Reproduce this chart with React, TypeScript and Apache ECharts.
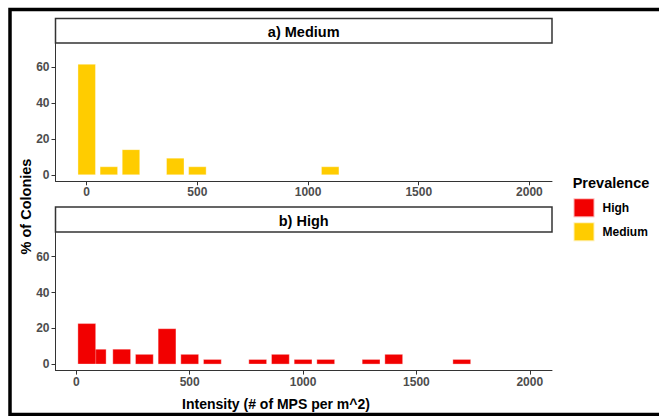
import React, { useEffect, useRef } from "react";
import * as echarts from "echarts";

const mediumX = [0, 100, 200, 400, 500, 1100];
const mediumPct = [61.9, 4.76, 14.29, 9.52, 4.76, 4.76];
const highX = [92, 46, 200, 300, 400, 500, 600, 800, 900, 1000, 1100, 1300, 1400, 1700];
const highPct = [8.57, 22.86, 8.57, 5.71, 20, 5.71, 2.86, 2.86, 5.71, 2.86, 2.86, 2.86, 5.71, 2.86];
const xTicks = [0, 500, 1000, 1500, 2000];
const yTicks = [0, 20, 40, 60];
const panelTitles = ["a) Medium", "b) High"];
const legendNames = ["High", "Medium"];

const FONT = "Liberation Sans, Arial, sans-serif";
const RED = "#F20000";
const YELLOW = "#FFCC00";

export default function App() {
  const ref = useRef<HTMLDivElement>(null);
  useEffect(() => {
    document.body.style.margin = "0";
    const chart = echarts.init(ref.current!, null, { renderer: "svg" });
    const gridLeft = 55.5;
    const gridW = 496.5;
    const gridH = 138.1;
    const tops = [43.2, 232.5];
    const xRanges = [
      [-141, 2102],
      [-92, 2098],
    ];
    const xAxisCommon = (i: number) => ({
      type: "value",
      gridIndex: i,
      min: xRanges[i][0],
      max: xRanges[i][1],
      splitLine: { show: false },
      axisLine: { show: true, onZero: false, lineStyle: { color: "#333", width: 1 } },
      axisTick: { show: true, customValues: xTicks, length: 4, lineStyle: { color: "#333" } },
      axisLabel: {
        customValues: xTicks,
        formatter: (v: number) => String(v),
        color: "#4D4D4D",
        fontWeight: "bold",
        fontSize: 12,
        fontFamily: FONT,
        margin: 5,
      },
    });
    const yAxisCommon = (i: number) => ({
      type: "value",
      gridIndex: i,
      min: -3.5,
      max: 73.5,
      splitLine: { show: false },
      axisLine: { show: true, onZero: false, lineStyle: { color: "#333", width: 1 } },
      axisTick: { show: true, customValues: yTicks, length: 4, lineStyle: { color: "#333" } },
      axisLabel: {
        customValues: yTicks,
        formatter: (v: number) => String(v),
        color: "#4D4D4D",
        fontWeight: "bold",
        fontSize: 12,
        fontFamily: FONT,
        margin: 6,
      },
    });
    chart.setOption({
      animation: false,
      grid: tops.map((t) => ({ left: gridLeft, top: t, width: gridW, height: gridH })),
      xAxis: [xAxisCommon(0), xAxisCommon(1)],
      yAxis: [yAxisCommon(0), yAxisCommon(1)],
      legend: {
        data: legendNames,
        orient: "vertical",
        left: 572.5,
        top: 197.3,
        itemWidth: 21,
        itemHeight: 19,
        itemGap: 3,
        padding: 0,
        icon: "rect",
        textStyle: { fontFamily: FONT, fontWeight: "bold", fontSize: 12, color: "#000", padding: [0, 0, 0, 3] },
      },
      series: [
        {
          name: "Medium",
          type: "bar",
          xAxisIndex: 0,
          yAxisIndex: 0,
          barWidth: 18,
          itemStyle: { color: YELLOW, borderColor: "rgba(255,255,255,0.7)", borderWidth: 0.5 },
          data: mediumX.map((x, i) => [x, mediumPct[i]]),
        },
        {
          name: "High",
          type: "bar",
          xAxisIndex: 1,
          yAxisIndex: 1,
          barWidth: 18.3,
          itemStyle: { color: RED, borderColor: "rgba(255,255,255,0.7)", borderWidth: 0.5 },
          data: highX.map((x, i) => [x, highPct[i]]),
        },
      ],
      graphic: [
        {
          type: "rect",
          shape: { x: 10, y: 9.5, width: 700, height: 405 },
          style: { fill: "none", stroke: "#000", lineWidth: 3.5 },
          silent: true,
        },
        {
          type: "rect",
          shape: { x: 55.5, y: 18.5, width: 496.5, height: 24.5 },
          style: { fill: "#fff", stroke: "#333", lineWidth: 1.5 },
        },
        {
          type: "rect",
          shape: { x: 55.5, y: 207, width: 496.5, height: 25 },
          style: { fill: "#fff", stroke: "#333", lineWidth: 1.5 },
        },
        {
          type: "text",
          x: 303.7,
          y: 31.5,
          style: {
            text: panelTitles[0],
            fontFamily: FONT,
            fontWeight: "bold",
            fontSize: 14.5,
            fill: "#000",
            align: "center",
            verticalAlign: "middle",
          },
        },
        {
          type: "text",
          x: 303.7,
          y: 220.5,
          style: {
            text: panelTitles[1],
            fontFamily: FONT,
            fontWeight: "bold",
            fontSize: 14.5,
            fill: "#000",
            align: "center",
            verticalAlign: "middle",
          },
        },
        {
          type: "text",
          x: 25.5,
          y: 206.5,
          rotation: Math.PI / 2,
          style: {
            text: "% of Colonies",
            fontFamily: FONT,
            fontWeight: "bold",
            fontSize: 14.5,
            fill: "#000",
            align: "center",
            verticalAlign: "middle",
          },
        },
        {
          type: "text",
          x: 276,
          y: 404,
          style: {
            text: "Intensity (# of MPS per m^2)",
            fontFamily: FONT,
            fontWeight: "bold",
            fontSize: 14,
            fill: "#000",
            align: "center",
            verticalAlign: "middle",
          },
        },
        {
          type: "text",
          x: 572.7,
          y: 183.3,
          style: {
            text: "Prevalence",
            fontFamily: FONT,
            fontWeight: "bold",
            fontSize: 14.5,
            fill: "#000",
            align: "left",
            verticalAlign: "middle",
          },
        },
      ],
    });
    return () => chart.dispose();
  }, []);
  return (
    <div
      ref={ref}
      style={{ position: "fixed", left: 0, top: 0, width: 659, height: 416, background: "#fff" }}
    />
  );
}
